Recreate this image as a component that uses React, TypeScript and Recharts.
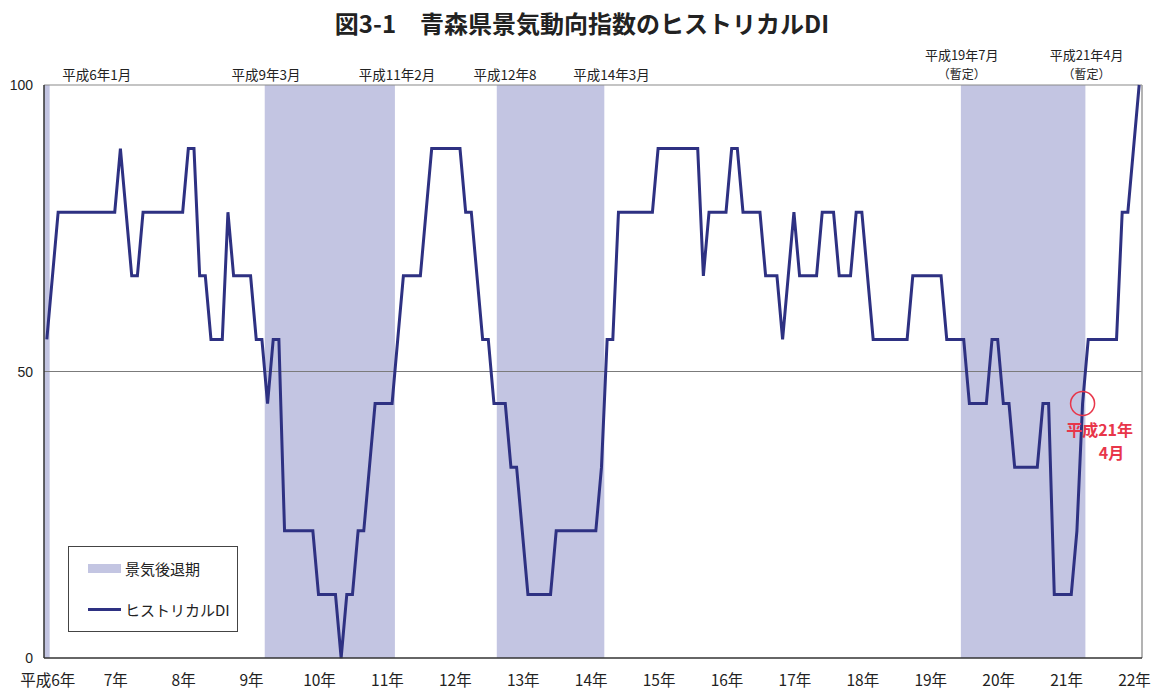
import React from 'react';
import { ComposedChart, Line, XAxis, YAxis, ReferenceArea, ReferenceLine, ReferenceDot } from 'recharts';

// Monthly historical DI, 平成6年1月 (index 0) … 平成22年2月 (index 193)
const diValues: number[] = [
  // 平成6年
  55.6, 66.7, 77.8, 77.8, 77.8, 77.8, 77.8, 77.8, 77.8, 77.8, 77.8, 77.8,
  // 平成7年
  77.8, 88.9, 77.8, 66.7, 66.7, 77.8, 77.8, 77.8, 77.8, 77.8, 77.8, 77.8,
  // 平成8年
  77.8, 88.9, 88.9, 66.7, 66.7, 55.6, 55.6, 55.6, 77.8, 66.7, 66.7, 66.7,
  // 平成9年
  66.7, 55.6, 55.6, 44.4, 55.6, 55.6, 22.2, 22.2, 22.2, 22.2, 22.2, 22.2,
  // 平成10年
  11.1, 11.1, 11.1, 11.1, 0, 11.1, 11.1, 22.2, 22.2, 33.3, 44.4, 44.4,
  // 平成11年
  44.4, 44.4, 55.6, 66.7, 66.7, 66.7, 66.7, 77.8, 88.9, 88.9, 88.9, 88.9,
  // 平成12年
  88.9, 88.9, 77.8, 77.8, 66.7, 55.6, 55.6, 44.4, 44.4, 44.4, 33.3, 33.3,
  // 平成13年
  22.2, 11.1, 11.1, 11.1, 11.1, 11.1, 22.2, 22.2, 22.2, 22.2, 22.2, 22.2,
  // 平成14年
  22.2, 22.2, 33.3, 55.6, 55.6, 77.8, 77.8, 77.8, 77.8, 77.8, 77.8, 77.8,
  // 平成15年
  88.9, 88.9, 88.9, 88.9, 88.9, 88.9, 88.9, 88.9, 66.7, 77.8, 77.8, 77.8,
  // 平成16年
  77.8, 88.9, 88.9, 77.8, 77.8, 77.8, 77.8, 66.7, 66.7, 66.7, 55.6, 66.7,
  // 平成17年
  77.8, 66.7, 66.7, 66.7, 66.7, 77.8, 77.8, 77.8, 66.7, 66.7, 66.7, 77.8,
  // 平成18年
  77.8, 66.7, 55.6, 55.6, 55.6, 55.6, 55.6, 55.6, 55.6, 66.7, 66.7, 66.7,
  // 平成19年
  66.7, 66.7, 66.7, 55.6, 55.6, 55.6, 55.6, 44.4, 44.4, 44.4, 44.4, 55.6,
  // 平成20年
  55.6, 44.4, 44.4, 33.3, 33.3, 33.3, 33.3, 33.3, 44.4, 44.4, 11.1, 11.1,
  // 平成21年
  11.1, 11.1, 22.2, 44.4, 55.6, 55.6, 55.6, 55.6, 55.6, 55.6, 77.8, 77.8,
  // 平成22年
  88.9, 100,
];

const yearTicks = [0, 12, 24, 36, 48, 60, 72, 84, 96, 108, 120, 132, 144, 156, 168, 180, 192];
const yearLabels = ['平成6年', '7年', '8年', '9年', '10年', '11年', '12年', '13年', '14年', '15年', '16年', '17年', '18年', '19年', '20年', '21年', '22年'];
const yTicks = [0, 50, 100];

const recessionStart = [0, 39, 80, 162];
const recessionEnd = [0, 61, 98, 183];

const turnMonths = [0, 38, 61, 79, 98, 162, 183];
const turnLabels: string[][] = [
  ['平成6年1月'],
  ['平成9年3月'],
  ['平成11年2月'],
  ['平成12年8'],
  ['平成14年3月'],
  ['平成19年7月', '（暫定）'],
  ['平成21年4月', '（暫定）'],
];

const troughMonth = 183;
const troughValue = 44.4;
const troughText = ['平成21年', '4月'];

const legendLabels = ['景気後退期', 'ヒストリカルDI'];
const titleText = '図3-1　青森県景気動向指数のヒストリカルDI';

const data = diValues.map((v, i) => ({ m: i, di: v }));

const JP = '"Noto Sans CJK JP", "Noto Sans", sans-serif';
const NUM = '"Liberation Sans", Arial, sans-serif';
const NAVY = '#2e3182';
const BAND = '#c3c5e2';
const RED = '#e8364a';
const labelShift = [50, 4, 5, 11, 10, -2, 4];

const XTick = (props: any) => {
  const { x, y, payload } = props;
  const idx = yearTicks.indexOf(payload.value);
  return (
    <text x={x + 1} y={y + 21} textAnchor="middle" dominantBaseline="central" fontFamily={JP} fontSize={15.5} fill="#222">
      {yearLabels[idx]}
    </text>
  );
};

const YTick = (props: any) => {
  const { x, y, payload } = props;
  return (
    <text x={x - 11} y={y} textAnchor="end" dominantBaseline="central" fontFamily={NUM} fontSize={14} fill="#222">
      {payload.value}
    </text>
  );
};

const makeTopLabel = (k: number) => (props: any) => {
  const vb = props.viewBox || {};
  const cx = (vb.x || 0) + labelShift[k];
  const top = vb.y || 0;
  const lines = turnLabels[k];
  if (lines.length === 1) {
    return (
      <text x={cx} y={top - 11} textAnchor="middle" dominantBaseline="central" fontFamily={JP} fontSize={13.5} fill="#222">
        {lines[0]}
      </text>
    );
  }
  return (
    <g>
      <text x={cx} y={top - 31} textAnchor="middle" dominantBaseline="central" fontFamily={JP} fontSize={13} fill="#222">
        {lines[0]}
      </text>
      <text x={cx} y={top - 12} textAnchor="middle" dominantBaseline="central" fontFamily={JP} fontSize={12} fill="#222">
        {lines[1]}
      </text>
    </g>
  );
};

const troughLabel = (props: any) => {
  const vb = props.viewBox || {};
  const cx = (vb.x || 0) + (vb.width || 0) / 2;
  const cy = (vb.y || 0) + (vb.height || 0) / 2;
  return (
    <g>
      <text x={cx + 17} y={cy + 25} textAnchor="middle" dominantBaseline="central" fontFamily={JP} fontWeight="bold" fontSize={16} fill={RED}>
        {troughText[0]}
      </text>
      <text x={cx + 29} y={cy + 48.5} textAnchor="middle" dominantBaseline="central" fontFamily={JP} fontWeight="bold" fontSize={16} fill={RED}>
        {troughText[1]}
      </text>
    </g>
  );
};

export default function App() {
  return (
    <div style={{ position: 'absolute', left: 0, top: 0, width: 1153, height: 690, background: '#fff' }}>
      <div
        style={{
          position: 'absolute',
          left: 0,
          top: 7,
          width: 1164,
          textAlign: 'center',
          fontFamily: JP,
          fontSize: 24,
          fontWeight: 'bold',
          lineHeight: '32px',
          color: '#222',
          whiteSpace: 'nowrap',
        }}
      >
        {titleText}
      </div>
      <ComposedChart width={1153} height={690} data={data} margin={{ top: 85, right: 11, bottom: 0, left: 0 }}>
        <ReferenceLine y={50} stroke="#7b7b7b" strokeWidth={1.2} />
        <ReferenceLine y={100} stroke="#8a8a8a" strokeWidth={1.2} />
        {recessionStart.map((s, k) => (
          <ReferenceArea
            key={'band' + k}
            x1={s - 0.5}
            x2={recessionEnd[k] + 0.5}
            y1={0}
            y2={100}
            fill={BAND}
            fillOpacity={1}
            stroke="none"
          />
        ))}
        <ReferenceLine x={193.5} stroke="#9a9a9a" strokeWidth={1.5} />
        <XAxis
          dataKey="m"
          type="number"
          domain={[-0.5, 193.5]}
          ticks={yearTicks}
          tick={<XTick />}
          tickLine={false}
          tickSize={0}
          tickMargin={0}
          interval={0}
          height={32}
          axisLine={{ stroke: '#333', strokeWidth: 1.5 }}
        />
        <YAxis
          type="number"
          domain={[0, 100]}
          ticks={yTicks}
          tick={<YTick />}
          tickLine={false}
          tickSize={0}
          tickMargin={0}
          interval={0}
          width={44}
          axisLine={{ stroke: '#333', strokeWidth: 1.5 }}
        />
        <Line dataKey="di" type="linear" stroke={NAVY} strokeWidth={3} dot={false} activeDot={false} isAnimationActive={false} />
        {turnMonths.map((m, k) => (
          <ReferenceLine key={'turn' + k} x={m} stroke="none" label={makeTopLabel(k)} />
        ))}
        <ReferenceDot x={troughMonth} y={troughValue} r={12} fill="none" stroke={RED} strokeWidth={1.5} label={troughLabel} />
      </ComposedChart>
      <div
        style={{
          position: 'absolute',
          left: 68,
          top: 546,
          width: 170,
          height: 86,
          border: '1px solid #444',
          boxSizing: 'border-box',
          background: '#fff',
          fontFamily: JP,
          fontSize: 15,
          color: '#222',
        }}
      >
        <div style={{ position: 'absolute', left: 19, top: 17, width: 33, height: 9, background: BAND }} />
        <div style={{ position: 'absolute', left: 56, top: 12, lineHeight: '20px', whiteSpace: 'nowrap' }}>{legendLabels[0]}</div>
        <div style={{ position: 'absolute', left: 19, top: 61, width: 33, height: 3, background: NAVY }} />
        <div style={{ position: 'absolute', left: 56, top: 53, lineHeight: '20px', whiteSpace: 'nowrap' }}>{legendLabels[1]}</div>
      </div>
    </div>
  );
}
